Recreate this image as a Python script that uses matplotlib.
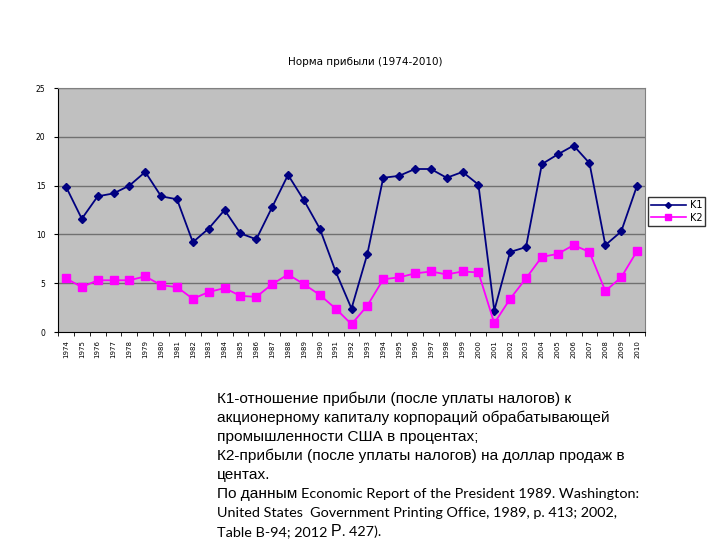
import matplotlib
matplotlib.use("Agg")
import matplotlib.pyplot as plt
from matplotlib.lines import Line2D

years = [str(y) for y in range(1974, 2011)]
k1 = [14.9, 11.6, 13.9, 14.2, 15.0, 16.4, 13.9, 13.6, 9.2, 10.6, 12.5, 10.1, 9.5,
      12.8, 16.1, 13.5, 10.6, 6.2, 2.4, 8.0, 15.8, 16.0, 16.7, 16.7, 15.8, 16.4,
      15.1, 2.2, 8.2, 8.7, 17.2, 18.2, 19.1, 17.3, 8.9, 10.3, 15.0]
k2 = [5.5, 4.6, 5.3, 5.3, 5.3, 5.7, 4.8, 4.6, 3.4, 4.1, 4.5, 3.7, 3.6,
      4.9, 5.9, 4.9, 3.8, 2.4, 0.8, 2.7, 5.4, 5.6, 6.0, 6.2, 5.9, 6.2,
      6.1, 0.9, 3.4, 5.5, 7.7, 8.0, 8.9, 8.2, 4.2, 5.6, 8.3]
yticks = [0, 5, 10, 15, 20, 25]
title = "Норма прибыли (1974-2010)"

fig = plt.figure(figsize=(7.2, 5.4), dpi=100)
ax = fig.add_axes([58/720, 1-332/540, (645-58)/720, (332-88)/540])
ax.set_facecolor("#C0C0C0")
x = list(range(len(years)))
ax.plot(x, k1, color="#000080", marker="D", markersize=4, lw=1.3, label="K1", zorder=3)
ax.plot(x, k2, color="#FF00FF", marker="s", markersize=6, lw=1.3, label="K2", zorder=3)
ax.set_xlim(-0.5, len(years) - 0.5)
ax.set_ylim(0, 25)
ax.set_yticks(yticks)
ax.set_yticklabels([str(t) for t in yticks], fontsize=5.5)
for t in yticks[1:]:
    ax.axhline(t, color="#707070", lw=1, zorder=1)
ax.set_xticks(x)
ax.set_xticklabels(years, rotation=90, fontsize=5)
ax.tick_params(axis="x", length=0, pad=6)
ax.set_xticks([i - 0.5 for i in x] + [len(years) - 0.5], minor=True)
ax.tick_params(axis="x", which="minor", length=3, direction="out")
ax.tick_params(axis="y", length=3, direction="out", pad=6)
for s in ["top", "right"]:
    ax.spines[s].set_color("#808080")
for s in ["left", "bottom"]:
    ax.spines[s].set_color("black")

handles = [Line2D([0], [0], color="#000080", marker="D", markersize=3, lw=1.2),
           Line2D([0], [0], color="#FF00FF", marker="s", markersize=5, lw=1.2)]
fig.legend(handles, ["K1", "K2"], loc="upper left", bbox_to_anchor=(648/720, 1-197/540),
           fontsize=7, frameon=True, fancybox=False, edgecolor="black",
           handlelength=3.6, borderpad=0.3, labelspacing=0.3, handletextpad=0.4,
           borderaxespad=0)

fig.text(365/720, 1-62/540, title, ha="center", va="center", fontsize=7.5)

ru = "Liberation Sans"
en = "Lato"
fs_ru = 11.1
fs_en = 10.4
lines_ru = ["К1-отношение прибыли (после уплаты налогов) к",
            "акционерному капиталу корпораций обрабатывающей",
            "промышленности США в процентах;",
            "К2-прибыли (после уплаты налогов) на доллар продаж в",
            "центах."]
x0 = 217/720
base = 403
step = 19
for i, s in enumerate(lines_ru):
    fig.text(x0, 1-(base + i*step)/540, s, fontsize=fs_ru, family=ru, va="baseline")

y5 = 1-(base + 5*step)/540
t1 = fig.text(x0, y5, "По данным ", fontsize=fs_ru, family=ru, va="baseline")
r = fig.canvas.get_renderer()
w = t1.get_window_extent(renderer=r).width / fig.bbox.width
fig.text(x0 + w, y5, "Economic Report of the President 1989. Washington:", fontsize=fs_en,
         family=en, va="baseline")
fig.text(x0, 1-(base + 6*step)/540, "United States  Government Printing Office, 1989, p. 413; 2002,",
         fontsize=fs_en, family=en, va="baseline")
t3 = fig.text(x0, 1-(base + 7*step)/540, "Table B-94; 2012 ", fontsize=fs_en, family=en, va="baseline")
w3 = t3.get_window_extent(renderer=r).width / fig.bbox.width
t4 = fig.text(x0 + w3, 1-(base + 7*step)/540, "Р", fontsize=11.5, family=ru, va="baseline")
w4 = t4.get_window_extent(renderer=r).width / fig.bbox.width
fig.text(x0 + w3 + w4, 1-(base + 7*step)/540, ". 427).", fontsize=fs_en, family=en, va="baseline")

fig.savefig("out.png", dpi=100)
